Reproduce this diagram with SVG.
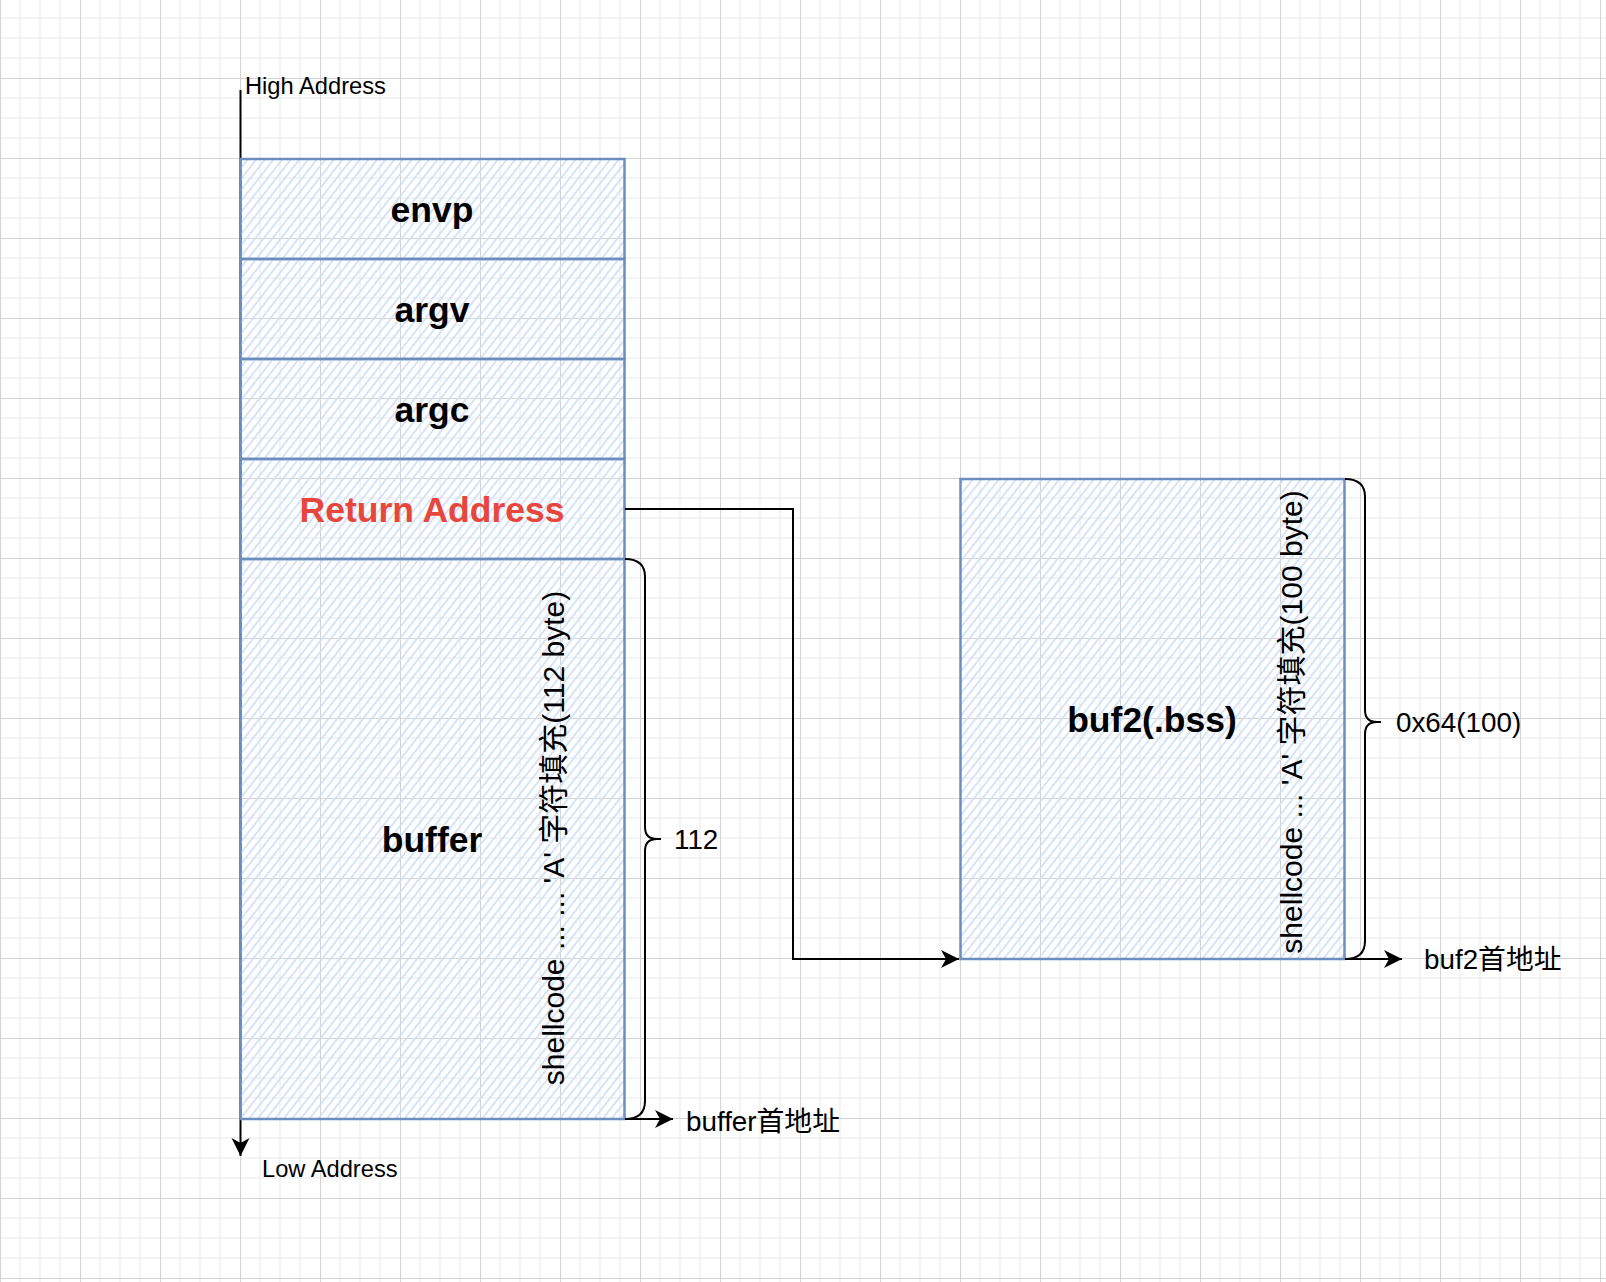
<svg xmlns="http://www.w3.org/2000/svg" width="1606" height="1282" viewBox="0 0 1606 1282">
<style>
.t{font-family:"Liberation Sans",Arial,"Noto Sans CJK SC",sans-serif;fill:#000}
.b{font-weight:bold;font-size:35.5px;text-anchor:middle}
.s{font-size:23.7px}
.m{font-size:27.8px}
.v{font-size:30px;text-anchor:middle}
.box{fill:url(#hatch);stroke:#6c8ebf;stroke-width:2.5}
.ln{fill:none;stroke:#000;stroke-width:2}
</style>
<defs>
<pattern id="grid" patternUnits="userSpaceOnUse" x="0" y="-2" width="80" height="80">
<rect x="0" y="0" width="80" height="80" fill="#fff"/>
<g fill="#f1f1f1">
<rect x="19.25" y="0" width="1.5" height="80"/><rect x="39.25" y="0" width="1.5" height="80"/><rect x="59.25" y="0" width="1.5" height="80"/>
<rect x="0" y="19.25" width="80" height="1.5"/><rect x="0" y="39.25" width="80" height="1.5"/><rect x="0" y="59.25" width="80" height="1.5"/>
</g>
<g fill="#d3d3d3">
<rect x="0" y="0" width="1" height="80"/><rect x="0" y="0" width="80" height="1"/>
</g>
</pattern>
<pattern id="hatch" patternUnits="userSpaceOnUse" width="6.8" height="10" patternTransform="rotate(38)">
<line x1="1" y1="0" x2="1" y2="10" stroke="#d0dff7" stroke-width="1.7"/>
</pattern>
<marker id="arr" markerUnits="userSpaceOnUse" markerWidth="22" markerHeight="22" viewBox="-19 -11 22 22" refX="0" refY="0" orient="auto">
<path d="M0,0 L-18,-9 L-13,0 L-18,9 Z" fill="#000"/>
</marker>
</defs>
<rect x="0" y="0" width="1606" height="1282" fill="url(#grid)"/>

<g id="axis">
<line class="ln" x1="240.5" y1="90" x2="240.5" y2="1156" marker-end="url(#arr)"/>
<text class="t s" x="245" y="94">High Address</text>
<text class="t s" x="262" y="1177">Low Address</text>
</g>

<g id="node-envp">
<rect class="box" x="240.5" y="159" width="384" height="100"/>
<text class="t b" x="432" y="221.5">envp</text>
</g>
<g id="node-argv">
<rect class="box" x="240.5" y="259" width="384" height="100"/>
<text class="t b" x="432" y="321.5">argv</text>
</g>
<g id="node-argc">
<rect class="box" x="240.5" y="359" width="384" height="100"/>
<text class="t b" x="432" y="421.5">argc</text>
</g>
<g id="node-return">
<rect class="box" x="240.5" y="459" width="384" height="100"/>
<text class="t b" x="432" y="521.5" style="fill:#e8463c">Return Address</text>
</g>
<g id="node-buffer">
<rect class="box" x="240.5" y="559" width="384" height="560"/>
<text class="t b" x="432" y="851.5">buffer</text>
<text class="t v" transform="translate(563.5,838) rotate(-90)">shellcode ... ...  'A' 字符填充(112 byte)</text>
</g>
<g id="node-buf2">
<rect class="box" x="960.5" y="479" width="384" height="480"/>
<text class="t b" x="1152" y="731.5">buf2(.bss)</text>
<text class="t v" transform="translate(1302,722) rotate(-90)">shellcode ... 'A' 字符填充(100 byte)</text>
</g>
<g id="label-112">
<text class="t m" x="674" y="849">112</text>
</g>
<g id="label-0x64">
<text class="t m" x="1396" y="731.5">0x64(100)</text>
</g>
<g id="label-buffer-addr">
<text class="t m" x="686" y="1131">buffer首地址</text>
</g>
<g id="label-buf2-addr">
<text class="t m" x="1424" y="969">buf2首地址</text>
</g>

<g id="connectors">
<path class="ln" d="M625,509 L793,509 L793,959 L959,959" marker-end="url(#arr)"/>
<path class="ln" d="M625,559 Q645,559 645,577 L645,827 Q645,839 657,839 L661,839 M657,839 Q645,839 645,851 L645,1101 Q645,1119 625,1119"/>
<path class="ln" d="M1345,479 Q1365,479 1365,497 L1365,710 Q1365,722 1377,722 L1381,722 M1377,722 Q1365,722 1365,734 L1365,941 Q1365,959 1345,959"/>
<path class="ln" d="M625,1119 L673,1119" marker-end="url(#arr)"/>
<path class="ln" d="M1345,959 L1402,959" marker-end="url(#arr)"/>
</g>
</svg>
